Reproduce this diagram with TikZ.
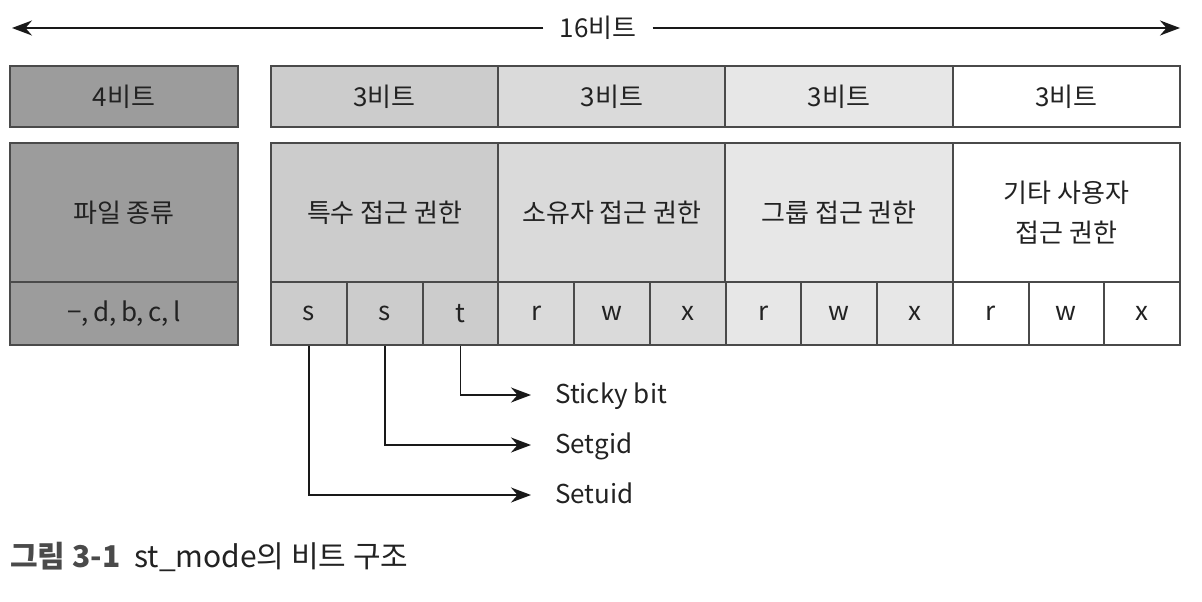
\documentclass[tikz,border=0pt]{standalone}
\usepackage{fontspec}
\setmainfont{Noto Sans CJK KR}
\usetikzlibrary{arrows.meta,positioning}

\definecolor{typegray}{HTML}{9C9C9C}
\definecolor{specgray}{HTML}{CCCCCC}
\definecolor{owngray}{HTML}{DADADA}
\definecolor{grpgray}{HTML}{E7E7E7}
\definecolor{linegray}{HTML}{4A4A4A}
\definecolor{textgray}{HTML}{222222}

\begin{document}
\begin{tikzpicture}[x=1pt,y=-1pt,
        box/.style={rectangle,draw=linegray,line width=2pt,inner sep=0pt,
            text=textgray,font=\fontsize{26}{40}\selectfont,align=center},
        conn/.style={-{Stealth[length=20pt,width=15pt]},line width=1.8pt,draw=black!90},
        bitlabel/.style={anchor=west,inner sep=0pt,text height=17pt,text depth=0pt,
            text=textgray,font=\fontsize{26}{30}\selectfont}]

    \useasboundingbox (0,0) rectangle (1202,602);

    % 16 bits
    \node[font=\fontsize{26}{30}\selectfont,text=textgray,inner sep=0pt] (total) at (598,28) {16비트};
    \coordinate (leftend) at (12,28);
    \coordinate (rightend) at (1180,28);
    \draw[conn] (total.west) ++(-16,0) -- (leftend);
    \draw[conn] (total.east) ++(16,0) -- (rightend);

    % file type
    \node[box, fill=typegray, minimum width=228, minimum height=61] (type bits) at (124,96.5) {4비트};
    \node[box, fill=typegray, minimum width=228, minimum height=139] (type name) at (124,212.5) {파일 종류};
    \node[box, fill=typegray, minimum width=228, minimum height=63] (type vals) at (124,313.5) {−,\,d,\,b,\,c,\,l};

    % permission groups
    \foreach \fillc/\txt [count=\i from 0] in {specgray/특수 접근 권한, owngray/소유자 접근 권한,
            grpgray/그룹 접근 권한, white/{기타 사용자\\접근 권한}} {
        \node[box, fill=\fillc, minimum width=227.25, minimum height=61] (bits\i) at (384.6+227.25*\i,96.5) {3비트};
        \node[box, fill=\fillc, minimum width=227.25, minimum height=139] (perm\i) at (384.6+227.25*\i,212.5) {\txt};
    }

    % single bits
    \foreach \fillc/\txt [count=\i from 0] in {specgray/s, specgray/s, specgray/t,
            owngray/r, owngray/w, owngray/x, grpgray/r, grpgray/w, grpgray/x,
            white/r, white/w, white/x} {
        \node[box, fill=\fillc, minimum width=75.75, minimum height=63] (c\i) at (308.9+75.75*\i,313.5) {\txt};
    }

    % special bits
    \node[bitlabel] (sticky) at (555,395) {Sticky bit};
    \node[bitlabel] (setgid) at (555,445) {Setgid};
    \node[bitlabel] (setuid) at (555,495) {Setuid};

    \draw[conn, shorten >=24pt] (c2.south) |- (sticky.west);
    \draw[conn, shorten >=24pt] (c1.south) |- (setgid.west);
    \draw[conn, shorten >=24pt] (c0.south) |- (setuid.west);

    % caption
    \node[anchor=west, inner sep=0pt, text=textgray, font=\fontsize{30}{34}\selectfont] (caption) at (10,557)
        {{\bfseries\color{linegray}그림 3-1}\hspace{14pt}st\_mode의 비트 구조};

\end{tikzpicture}
\end{document}
